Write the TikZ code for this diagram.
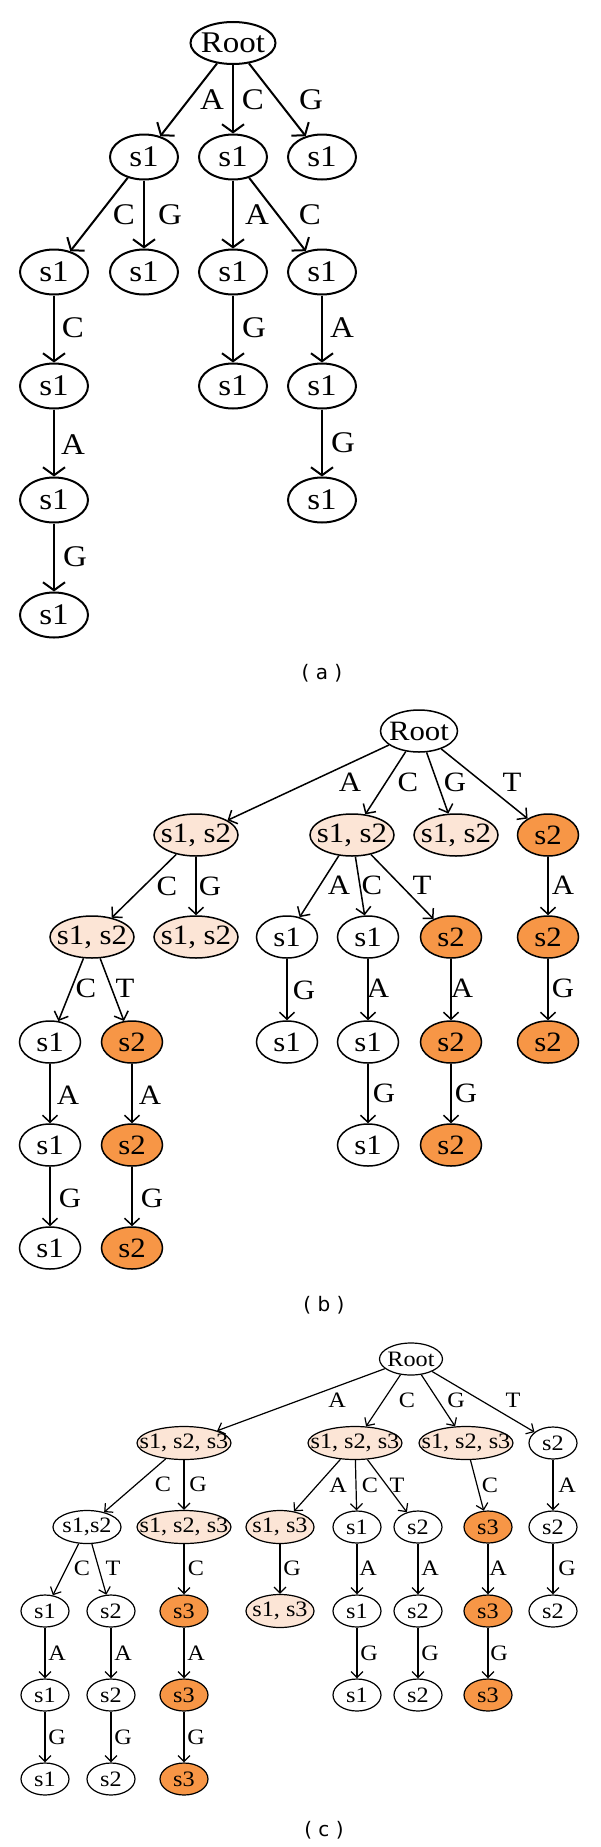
\documentclass[tikz,border=0pt]{standalone}
\usepackage{fontspec}
\setmainfont{Liberation Serif}[FakeStretch=1.1]
\newfontfamily\capfont{DejaVu Sans}
\usetikzlibrary{shapes.geometric,arrows.meta}
\definecolor{lightor}{RGB}{252,229,214}
\definecolor{orng}{RGB}{247,150,70}
\newcommand\zw[1]{\makebox[0pt]{#1}}
\begin{document}
\begin{tikzpicture}[x=1pt,y=-1pt,
  nd/.style={ellipse,draw=black,inner sep=0pt,text=black},
  lt/.style={fill=lightor},
  og/.style={fill=orng},
  na/.style={nd,line width=2pt,minimum width=68pt,minimum height=45pt,font=\fontsize{30}{32}\selectfont},
  nar/.style={na,minimum width=85pt,minimum height=42pt},
  ea/.style={line width=2pt,-{Straight Barb[length=8pt,width=22pt]}},
  la/.style={inner sep=0pt,font=\fontsize{30}{32}\selectfont},
  nb/.style={nd,line width=1.5pt,minimum width=61pt,minimum height=42pt,font=\fontsize{28}{30}\selectfont},
  nbw/.style={nb,minimum width=84pt},
  nbr/.style={nb,minimum width=77pt},
  eb/.style={line width=1.5pt,-{Straight Barb[length=7pt,width=15pt]}},
  lb/.style={inner sep=0pt,font=\fontsize{28}{30}\selectfont},
  nc/.style={nd,line width=1.2pt,minimum width=48pt,minimum height=32pt,font=\fontsize{22}{24}\selectfont},
  ncw/.style={nc,minimum width=94pt,minimum height=33pt},
  ncm/.style={nc,minimum width=68pt,minimum height=33pt},
  ncr/.style={nc,minimum width=63pt},
  ec/.style={line width=1.2pt,-{Straight Barb[length=6pt,width=12pt]}},
  lc/.style={inner sep=0pt,font=\fontsize{22}{24}\selectfont},
  capt/.style={inner sep=0pt,font=\capfont\fontsize{20}{22}\selectfont}]
\useasboundingbox (0,0) rectangle (600,1847);

% ---------------- (a) ----------------
\node[nar] (ar) at (233,43) {\zw{Root}};
\node[na] (a11) at (144,157) {\zw{s1}};
\node[na] (a12) at (233,157) {\zw{s1}};
\node[na] (a13) at (322,157) {\zw{s1}};
\node[na] (a21) at (54,272) {\zw{s1}};
\node[na] (a22) at (144,272) {\zw{s1}};
\node[na] (a23) at (233,272) {\zw{s1}};
\node[na] (a24) at (322,272) {\zw{s1}};
\node[na] (a31) at (54,386) {\zw{s1}};
\node[na] (a33) at (233,386) {\zw{s1}};
\node[na] (a34) at (322,386) {\zw{s1}};
\node[na] (a41) at (54,500) {\zw{s1}};
\node[na] (a44) at (322,500) {\zw{s1}};
\node[na] (a51) at (54,615) {\zw{s1}};
\node[capt] (acap) at (322,673) {( a )};

\draw[ea] (ar) -- (a11) node[la] at (212,100) {A};
\draw[ea] (ar) -- (a12) node[la] at (253,100) {C};
\draw[ea] (ar) -- (a13) node[la] at (311,100) {G};
\draw[ea] (a11) -- (a21) node[la] at (124,215) {C};
\draw[ea] (a11) -- (a22) node[la] at (170,215) {G};
\draw[ea] (a12) -- (a23) node[la] at (257,215) {A};
\draw[ea] (a12) -- (a24) node[la] at (310,215) {C};
\draw[ea] (a21) -- (a31) node[la] at (73,328) {C};
\draw[ea] (a23) -- (a33) node[la] at (254,328) {G};
\draw[ea] (a24) -- (a34) node[la] at (342,328) {A};
\draw[ea] (a31) -- (a41) node[la] at (73,445) {A};
\draw[ea] (a34) -- (a44) node[la] at (343,443) {G};
\draw[ea] (a41) -- (a51) node[la] at (75,557) {G};

% ---------------- (b) ----------------
\node[nbr] (br) at (419,731) {\zw{Root}};
\node[nbw,lt] (b11) at (196,835) {\zw{s1, s2}};
\node[nbw,lt] (b12) at (352,835) {\zw{s1, s2}};
\node[nbw,lt] (b13) at (456,835) {\zw{s1, s2}};
\node[nb,og] (b14) at (548,835) {\zw{s2}};
\node[nbw,lt] (b21) at (92,937) {\zw{s1, s2}};
\node[nbw,lt] (b22) at (196,937) {\zw{s1, s2}};
\node[nb] (b23) at (287,937) {\zw{s1}};
\node[nb] (b24) at (368,937) {\zw{s1}};
\node[nb,og] (b25) at (451,937) {\zw{s2}};
\node[nb,og] (b26) at (548,937) {\zw{s2}};
\node[nb] (b31) at (50,1042) {\zw{s1}};
\node[nb,og] (b32) at (132,1042) {\zw{s2}};
\node[nb] (b33) at (287,1042) {\zw{s1}};
\node[nb] (b34) at (368,1042) {\zw{s1}};
\node[nb,og] (b35) at (451,1042) {\zw{s2}};
\node[nb,og] (b36) at (548,1042) {\zw{s2}};
\node[nb] (b41) at (50,1145) {\zw{s1}};
\node[nb,og] (b42) at (132,1145) {\zw{s2}};
\node[nb] (b44) at (368,1145) {\zw{s1}};
\node[nb,og] (b45) at (451,1145) {\zw{s2}};
\node[nb] (b51) at (50,1248) {\zw{s1}};
\node[nb,og] (b52) at (132,1248) {\zw{s2}};
\node[capt] (bcap) at (324,1305) {( b )};

\draw[eb] (br) -- (b11) node[lb] at (350,782) {A};
\draw[eb] (br) -- (b12) node[lb] at (408,782) {C};
\draw[eb] (br) -- (b13) node[lb] at (455,782) {G};
\draw[eb] (br) -- (b14) node[lb] at (512,782) {T};
\draw[eb] (b11) -- (b21) node[lb] at (167,886) {C};
\draw[eb] (b11) -- (b22) node[lb] at (210,886) {G};
\draw[eb] (b12) -- (b23) node[lb] at (339,885) {A};
\draw[eb] (b12) -- (b24) node[lb] at (372,885) {C};
\draw[eb] (b12) -- (b25) node[lb] at (422,885) {T};
\draw[eb] (b14) -- (b26) node[lb] at (563,885) {A};
\draw[eb] (b21) -- (b31) node[lb] at (86,988) {C};
\draw[eb] (b21) -- (b32) node[lb] at (125,988) {T};
\draw[eb] (b23) -- (b33) node[lb] at (304,990) {G};
\draw[eb] (b24) -- (b34) node[lb] at (378,988) {A};
\draw[eb] (b25) -- (b35) node[lb] at (462,988) {A};
\draw[eb] (b26) -- (b36) node[lb] at (563,988) {G};
\draw[eb] (b31) -- (b41) node[lb] at (68,1095) {A};
\draw[eb] (b32) -- (b42) node[lb] at (150,1095) {A};
\draw[eb] (b34) -- (b44) node[lb] at (384,1093) {G};
\draw[eb] (b35) -- (b45) node[lb] at (466,1093) {G};
\draw[eb] (b41) -- (b51) node[lb] at (70,1198) {G};
\draw[eb] (b42) -- (b52) node[lb] at (152,1198) {G};

% ---------------- (c) ----------------
\node[ncr] (cr) at (411,1359) {\zw{Root}};
\node[ncw,lt] (c11) at (184,1443) {\zw{s1, s2, s3}};
\node[ncw,lt] (c12) at (355,1443) {\zw{s1, s2, s3}};
\node[ncw,lt] (c13) at (466,1443) {\zw{s1, s2, s3}};
\node[nc] (c14) at (553,1443) {\zw{s2}};
\node[ncm] (c21) at (87,1527) {\zw{s1,s2}};
\node[ncw,lt] (c22) at (184,1527) {\zw{s1, s2, s3}};
\node[ncm,lt] (c23) at (280,1527) {\zw{s1, s3}};
\node[nc] (c24) at (357,1527) {\zw{s1}};
\node[nc] (c25) at (418,1527) {\zw{s2}};
\node[nc,og] (c26) at (488,1527) {\zw{s3}};
\node[nc] (c27) at (553,1527) {\zw{s2}};
\node[nc] (c31) at (45,1611) {\zw{s1}};
\node[nc] (c32) at (111,1611) {\zw{s2}};
\node[nc,og] (c33) at (184,1611) {\zw{s3}};
\node[ncm,lt] (c34) at (280,1611) {\zw{s1, s3}};
\node[nc] (c35) at (357,1611) {\zw{s1}};
\node[nc] (c36) at (418,1611) {\zw{s2}};
\node[nc,og] (c37) at (488,1611) {\zw{s3}};
\node[nc] (c38) at (553,1611) {\zw{s2}};
\node[nc] (c41) at (45,1695) {\zw{s1}};
\node[nc] (c42) at (111,1695) {\zw{s2}};
\node[nc,og] (c43) at (184,1695) {\zw{s3}};
\node[nc] (c45) at (357,1695) {\zw{s1}};
\node[nc] (c46) at (418,1695) {\zw{s2}};
\node[nc,og] (c47) at (488,1695) {\zw{s3}};
\node[nc] (c51) at (45,1779) {\zw{s1}};
\node[nc] (c52) at (111,1779) {\zw{s2}};
\node[nc,og] (c53) at (184,1779) {\zw{s3}};
\node[capt] (ccap) at (324,1830) {( c )};

\draw[ec] (cr) -- (c11) node[lc] at (337,1400) {A};
\draw[ec] (cr) -- (c12) node[lc] at (407,1400) {C};
\draw[ec] (cr) -- (c13) node[lc] at (456,1400) {G};
\draw[ec] (cr) -- (c14) node[lc] at (513,1400) {T};
\draw[ec] (c11) -- (c21) node[lc] at (163,1484) {C};
\draw[ec] (c11) -- (c22) node[lc] at (198,1484) {G};
\draw[ec] (c12) -- (c23) node[lc] at (338,1485) {A};
\draw[ec] (c12) -- (c24) node[lc] at (370,1485) {C};
\draw[ec] (c12) -- (c25) node[lc] at (397,1485) {T};
\draw[ec] (c13) -- (c26) node[lc] at (490,1485) {C};
\draw[ec] (c14) -- (c27) node[lc] at (567,1485) {A};
\draw[ec] (c21) -- (c31) node[lc] at (82,1568) {C};
\draw[ec] (c21) -- (c32) node[lc] at (113,1568) {T};
\draw[ec] (c22) -- (c33) node[lc] at (196,1568) {C};
\draw[ec] (c23) -- (c34) node[lc] at (292,1568) {G};
\draw[ec] (c24) -- (c35) node[lc] at (368,1568) {A};
\draw[ec] (c25) -- (c36) node[lc] at (430,1568) {A};
\draw[ec] (c26) -- (c37) node[lc] at (498,1568) {A};
\draw[ec] (c27) -- (c38) node[lc] at (567,1568) {G};
\draw[ec] (c31) -- (c41) node[lc] at (57,1653) {A};
\draw[ec] (c32) -- (c42) node[lc] at (123,1653) {A};
\draw[ec] (c33) -- (c43) node[lc] at (196,1653) {A};
\draw[ec] (c35) -- (c45) node[lc] at (369,1653) {G};
\draw[ec] (c36) -- (c46) node[lc] at (430,1653) {G};
\draw[ec] (c37) -- (c47) node[lc] at (499,1653) {G};
\draw[ec] (c41) -- (c51) node[lc] at (57,1737) {G};
\draw[ec] (c42) -- (c52) node[lc] at (123,1737) {G};
\draw[ec] (c43) -- (c53) node[lc] at (196,1737) {G};
\end{tikzpicture}
\end{document}
